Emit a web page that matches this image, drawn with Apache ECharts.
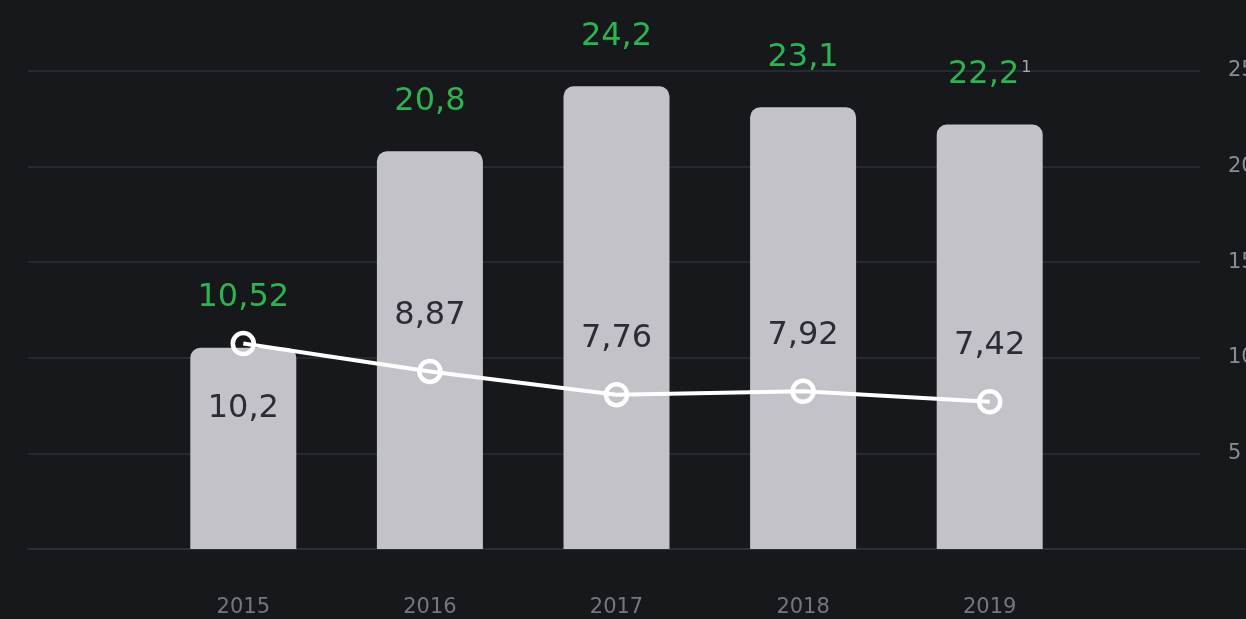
<!DOCTYPE html>
<html>
<head>
<meta charset="utf-8">
<script src="https://cdn.jsdelivr.net/npm/echarts@6/dist/echarts.min.js"></script>
<style>
  html, body { margin: 0; padding: 0; background: #17181b; }
  #chart { width: 1246px; height: 619px; }
</style>
</head>
<body>
<div id="chart"></div>
<script>
const years = ['2015', '2016', '2017', '2018', '2019']
const barValues = [10.52, 20.8, 24.2, 23.1, 22.2]
const lineValues = [10.2, 8.87, 7.76, 7.92, 7.42]
const barNotes = ['', '', '', '', '1'] // footnote marks after bar labels

const fmt = v => String(v).replace('.', ',')

const font = '"DejaVu Sans", sans-serif'

const lineData = lineValues.map((v, i) => {
  if (i === 0) {
    // first point sits above its bar, label goes inside the bar
    return { value: v, label: { position: 'bottom', distance: 36 } }
  }
  return v
})

const option = {
  backgroundColor: '#17181b',
  animation: false,
  grid: [
    { left: 28, right: 46, top: 71, bottom: 70, outerBoundsMode: 'none' },   // split lines + right axis
    { left: 150, right: 163, top: 71, bottom: 70, outerBoundsMode: 'none' }, // bars and line
    { left: 28, right: 0, top: 71, bottom: 70, outerBoundsMode: 'none' }     // bottom base line
  ],
  xAxis: [
    { gridIndex: 0, type: 'value', show: false },
    {
      gridIndex: 1,
      type: 'category',
      data: years,
      axisLine: { show: false },
      axisTick: { show: false },
      axisLabel: { color: '#76767e', fontSize: 21, fontFamily: font, margin: 48 }
    },
    {
      gridIndex: 2,
      type: 'value',
      axisLine: { show: true, lineStyle: { color: '#2b2d3a', width: 2 } },
      axisTick: { show: false },
      axisLabel: { show: false },
      splitLine: { show: false }
    }
  ],
  yAxis: [
    {
      gridIndex: 0,
      type: 'value',
      position: 'right',
      min: 0,
      max: 25,
      interval: 5,
      axisLine: { show: false },
      axisTick: { show: false },
      axisLabel: {
        color: '#8b8b92', fontSize: 21, fontFamily: font, margin: 28,
        showMinLabel: false
      },
      splitLine: { lineStyle: { color: '#262834', width: 2 } }
    },
    { gridIndex: 1, type: 'value', min: 0, max: 25, show: false },
    { gridIndex: 1, type: 'value', min: 0.4, max: 23.2, show: false },
    { gridIndex: 2, type: 'value', show: false }
  ],
  series: [
    {
      type: 'bar',
      xAxisIndex: 1,
      yAxisIndex: 1,
      data: barValues,
      barWidth: 106,
      itemStyle: { color: '#c3c2c8', borderRadius: [10, 10, 0, 0] },
      label: {
        show: true,
        position: 'top',
        distance: 34,
        fontFamily: font,
        formatter: p => '{v|' + fmt(p.value) + '}' + (barNotes[p.dataIndex] ? '{s|' + barNotes[p.dataIndex] + '}' : ''),
        rich: {
          v: { color: '#2bb44f', fontSize: 32, fontFamily: font },
          s: { color: '#a8a8ae', fontSize: 16, fontFamily: font, padding: [0, 0, 14, 2] }
        }
      },
      z: 2
    },
    {
      type: 'line',
      xAxisIndex: 1,
      yAxisIndex: 2,
      data: lineData,
      symbol: 'circle',
      symbolSize: 21,
      lineStyle: { color: '#ffffff', width: 4 },
      itemStyle: { color: 'transparent', borderColor: '#ffffff', borderWidth: 4.5 },
      label: {
        show: true,
        position: 'top',
        distance: 27,
        color: '#2a2d38',
        fontSize: 32,
        fontFamily: font,
        formatter: p => fmt(p.value)
      },
      z: 5
    }
  ]
}

const myChart = echarts.init(document.getElementById('chart'))
myChart.setOption(option)
</script>
</body>
</html>
